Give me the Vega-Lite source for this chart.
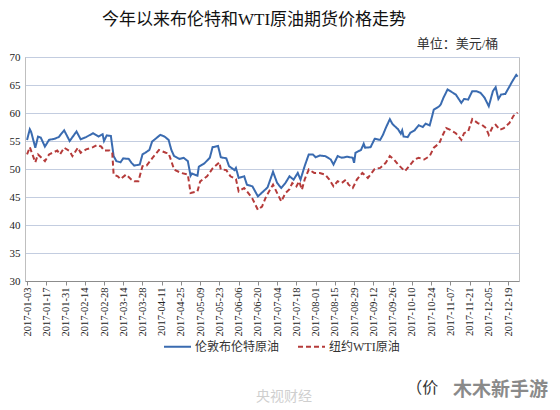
{
"$schema": "https://vega.github.io/schema/vega-lite/v6.json",
"width": 494,
"height": 224,
"autosize": {"type": "none"},
"padding": {"left": 25, "top": 57, "right": 41, "bottom": 129},
"background": "white",
"config": {"view": {"stroke": "#bfbfbf"}, "font": "Liberation Serif"},
"title": {"text": "今年以来布伦特和WTI原油期货价格走势", "anchor": "start", "frame": "group", "dx": 77, "offset": 9, "fontSize": 17, "fontWeight": "normal", "font": "Liberation Serif, Noto Sans CJK SC", "color": "#111111"},
"layer": [
{
"data": {"values": [
{"date":"2017-01-03","series":"伦敦布伦特原油","price":55.2},
{"date":"2017-01-05","series":"伦敦布伦特原油","price":57.1},
{"date":"2017-01-06","series":"伦敦布伦特原油","price":56.6},
{"date":"2017-01-09","series":"伦敦布伦特原油","price":53.8},
{"date":"2017-01-11","series":"伦敦布伦特原油","price":55.8},
{"date":"2017-01-13","series":"伦敦布伦特原油","price":55.6},
{"date":"2017-01-16","series":"伦敦布伦特原油","price":54.0},
{"date":"2017-01-19","series":"伦敦布伦特原油","price":55.2},
{"date":"2017-01-23","series":"伦敦布伦特原油","price":55.4},
{"date":"2017-01-26","series":"伦敦布伦特原油","price":55.7},
{"date":"2017-01-30","series":"伦敦布伦特原油","price":56.9},
{"date":"2017-02-03","series":"伦敦布伦特原油","price":55.0},
{"date":"2017-02-08","series":"伦敦布伦特原油","price":56.7},
{"date":"2017-02-11","series":"伦敦布伦特原油","price":55.3},
{"date":"2017-02-15","series":"伦敦布伦特原油","price":55.7},
{"date":"2017-02-20","series":"伦敦布伦特原油","price":56.4},
{"date":"2017-02-24","series":"伦敦布伦特原油","price":55.8},
{"date":"2017-02-27","series":"伦敦布伦特原油","price":56.2},
{"date":"2017-02-28","series":"伦敦布伦特原油","price":55.0},
{"date":"2017-03-02","series":"伦敦布伦特原油","price":56.0},
{"date":"2017-03-05","series":"伦敦布伦特原油","price":55.9},
{"date":"2017-03-07","series":"伦敦布伦特原油","price":52.3},
{"date":"2017-03-09","series":"伦敦布伦特原油","price":51.4},
{"date":"2017-03-12","series":"伦敦布伦特原油","price":51.2},
{"date":"2017-03-14","series":"伦敦布伦特原油","price":51.9},
{"date":"2017-03-18","series":"伦敦布伦特原油","price":51.8},
{"date":"2017-03-20","series":"伦敦布伦特原油","price":51.1},
{"date":"2017-03-22","series":"伦敦布伦特原油","price":50.6},
{"date":"2017-03-26","series":"伦敦布伦特原油","price":50.8},
{"date":"2017-03-28","series":"伦敦布伦特原油","price":52.6},
{"date":"2017-03-30","series":"伦敦布伦特原油","price":52.9},
{"date":"2017-04-02","series":"伦敦布伦特原油","price":53.4},
{"date":"2017-04-04","series":"伦敦布伦特原油","price":54.9},
{"date":"2017-04-07","series":"伦敦布伦特原油","price":55.5},
{"date":"2017-04-10","series":"伦敦布伦特原油","price":56.1},
{"date":"2017-04-13","series":"伦敦布伦特原油","price":55.8},
{"date":"2017-04-16","series":"伦敦布伦特原油","price":55.2},
{"date":"2017-04-18","series":"伦敦布伦特原油","price":53.4},
{"date":"2017-04-20","series":"伦敦布伦特原油","price":52.3},
{"date":"2017-04-24","series":"伦敦布伦特原油","price":51.8},
{"date":"2017-04-27","series":"伦敦布伦特原油","price":52.0},
{"date":"2017-04-30","series":"伦敦布伦特原油","price":51.4},
{"date":"2017-05-02","series":"伦敦布伦特原油","price":48.8},
{"date":"2017-05-03","series":"伦敦布伦特原油","price":49.2},
{"date":"2017-05-07","series":"伦敦布伦特原油","price":48.8},
{"date":"2017-05-08","series":"伦敦布伦特原油","price":50.4},
{"date":"2017-05-12","series":"伦敦布伦特原油","price":51.0},
{"date":"2017-05-16","series":"伦敦布伦特原油","price":52.0},
{"date":"2017-05-18","series":"伦敦布伦特原油","price":53.9},
{"date":"2017-05-22","series":"伦敦布伦特原油","price":54.1},
{"date":"2017-05-24","series":"伦敦布伦特原油","price":52.1},
{"date":"2017-05-28","series":"伦敦布伦特原油","price":51.9},
{"date":"2017-05-30","series":"伦敦布伦特原油","price":50.5},
{"date":"2017-06-03","series":"伦敦布伦特原油","price":49.8},
{"date":"2017-06-04","series":"伦敦布伦特原油","price":50.2},
{"date":"2017-06-06","series":"伦敦布伦特原油","price":48.4},
{"date":"2017-06-10","series":"伦敦布伦特原油","price":48.7},
{"date":"2017-06-12","series":"伦敦布伦特原油","price":47.2},
{"date":"2017-06-16","series":"伦敦布伦特原油","price":46.9},
{"date":"2017-06-20","series":"伦敦布伦特原油","price":45.1},
{"date":"2017-06-23","series":"伦敦布伦特原油","price":45.8},
{"date":"2017-06-27","series":"伦敦布伦特原油","price":46.7},
{"date":"2017-07-01","series":"伦敦布伦特原油","price":49.5},
{"date":"2017-07-04","series":"伦敦布伦特原油","price":47.5},
{"date":"2017-07-07","series":"伦敦布伦特原油","price":46.6},
{"date":"2017-07-10","series":"伦敦布伦特原油","price":47.5},
{"date":"2017-07-13","series":"伦敦布伦特原油","price":48.7},
{"date":"2017-07-16","series":"伦敦布伦特原油","price":48.1},
{"date":"2017-07-19","series":"伦敦布伦特原油","price":49.3},
{"date":"2017-07-21","series":"伦敦布伦特原油","price":48.1},
{"date":"2017-07-24","series":"伦敦布伦特原油","price":50.5},
{"date":"2017-07-27","series":"伦敦布伦特原油","price":52.6},
{"date":"2017-07-30","series":"伦敦布伦特原油","price":52.6},
{"date":"2017-08-01","series":"伦敦布伦特原油","price":52.1},
{"date":"2017-08-04","series":"伦敦布伦特原油","price":52.4},
{"date":"2017-08-08","series":"伦敦布伦特原油","price":52.3},
{"date":"2017-08-12","series":"伦敦布伦特原油","price":51.7},
{"date":"2017-08-14","series":"伦敦布伦特原油","price":50.8},
{"date":"2017-08-17","series":"伦敦布伦特原油","price":52.3},
{"date":"2017-08-20","series":"伦敦布伦特原油","price":52.0},
{"date":"2017-08-24","series":"伦敦布伦特原油","price":52.2},
{"date":"2017-08-28","series":"伦敦布伦特原油","price":52.0},
{"date":"2017-08-29","series":"伦敦布伦特原油","price":51.1},
{"date":"2017-08-30","series":"伦敦布伦特原油","price":52.9},
{"date":"2017-09-03","series":"伦敦布伦特原油","price":53.4},
{"date":"2017-09-05","series":"伦敦布伦特原油","price":54.5},
{"date":"2017-09-06","series":"伦敦布伦特原油","price":53.8},
{"date":"2017-09-10","series":"伦敦布伦特原油","price":53.9},
{"date":"2017-09-13","series":"伦敦布伦特原油","price":55.4},
{"date":"2017-09-17","series":"伦敦布伦特原油","price":55.2},
{"date":"2017-09-19","series":"伦敦布伦特原油","price":56.1},
{"date":"2017-09-21","series":"伦敦布伦特原油","price":57.3},
{"date":"2017-09-24","series":"伦敦布伦特原油","price":58.9},
{"date":"2017-09-26","series":"伦敦布伦特原油","price":58.0},
{"date":"2017-09-30","series":"伦敦布伦特原油","price":57.1},
{"date":"2017-10-02","series":"伦敦布伦特原油","price":56.3},
{"date":"2017-10-03","series":"伦敦布伦特原油","price":56.9},
{"date":"2017-10-04","series":"伦敦布伦特原油","price":55.8},
{"date":"2017-10-07","series":"伦敦布伦特原油","price":55.7},
{"date":"2017-10-09","series":"伦敦布伦特原油","price":56.5},
{"date":"2017-10-12","series":"伦敦布伦特原油","price":56.9},
{"date":"2017-10-15","series":"伦敦布伦特原油","price":57.8},
{"date":"2017-10-18","series":"伦敦布伦特原油","price":57.5},
{"date":"2017-10-20","series":"伦敦布伦特原油","price":58.1},
{"date":"2017-10-23","series":"伦敦布伦特原油","price":57.8},
{"date":"2017-10-24","series":"伦敦布伦特原油","price":58.7},
{"date":"2017-10-26","series":"伦敦布伦特原油","price":60.6},
{"date":"2017-10-30","series":"伦敦布伦特原油","price":61.2},
{"date":"2017-10-31","series":"伦敦布伦特原油","price":61.5},
{"date":"2017-11-02","series":"伦敦布伦特原油","price":62.7},
{"date":"2017-11-05","series":"伦敦布伦特原油","price":64.2},
{"date":"2017-11-07","series":"伦敦布伦特原油","price":63.9},
{"date":"2017-11-11","series":"伦敦布伦特原油","price":63.3},
{"date":"2017-11-15","series":"伦敦布伦特原油","price":61.8},
{"date":"2017-11-17","series":"伦敦布伦特原油","price":62.5},
{"date":"2017-11-20","series":"伦敦布伦特原油","price":62.4},
{"date":"2017-11-23","series":"伦敦布伦特原油","price":63.9},
{"date":"2017-11-26","series":"伦敦布伦特原油","price":63.9},
{"date":"2017-11-29","series":"伦敦布伦特原油","price":63.6},
{"date":"2017-12-02","series":"伦敦布伦特原油","price":62.7},
{"date":"2017-12-05","series":"伦敦布伦特原油","price":61.2},
{"date":"2017-12-08","series":"伦敦布伦特原油","price":63.9},
{"date":"2017-12-10","series":"伦敦布伦特原油","price":64.6},
{"date":"2017-12-12","series":"伦敦布伦特原油","price":62.5},
{"date":"2017-12-14","series":"伦敦布伦特原油","price":63.3},
{"date":"2017-12-17","series":"伦敦布伦特原油","price":63.4},
{"date":"2017-12-20","series":"伦敦布伦特原油","price":64.7},
{"date":"2017-12-22","series":"伦敦布伦特原油","price":65.6},
{"date":"2017-12-25","series":"伦敦布伦特原油","price":66.8},
{"date":"2017-12-26","series":"伦敦布伦特原油","price":66.5},
{"date":"2017-01-03","series":"纽约WTI原油","price":52.6},
{"date":"2017-01-05","series":"纽约WTI原油","price":53.9},
{"date":"2017-01-09","series":"纽约WTI原油","price":51.2},
{"date":"2017-01-11","series":"纽约WTI原油","price":52.6},
{"date":"2017-01-16","series":"纽约WTI原油","price":51.4},
{"date":"2017-01-19","series":"纽约WTI原油","price":52.6},
{"date":"2017-01-25","series":"纽约WTI原油","price":53.3},
{"date":"2017-01-27","series":"纽约WTI原油","price":52.6},
{"date":"2017-01-30","series":"纽约WTI原油","price":53.8},
{"date":"2017-02-03","series":"纽约WTI原油","price":53.2},
{"date":"2017-02-05","series":"纽约WTI原油","price":52.3},
{"date":"2017-02-09","series":"纽约WTI原油","price":53.8},
{"date":"2017-02-11","series":"纽约WTI原油","price":52.9},
{"date":"2017-02-15","series":"纽约WTI原油","price":53.5},
{"date":"2017-02-20","series":"纽约WTI原油","price":53.9},
{"date":"2017-02-23","series":"纽约WTI原油","price":54.3},
{"date":"2017-02-26","series":"纽约WTI原油","price":54.0},
{"date":"2017-02-28","series":"纽约WTI原油","price":53.3},
{"date":"2017-03-04","series":"纽约WTI原油","price":53.3},
{"date":"2017-03-06","series":"纽约WTI原油","price":52.9},
{"date":"2017-03-07","series":"纽约WTI原油","price":49.0},
{"date":"2017-03-10","series":"纽约WTI原油","price":48.7},
{"date":"2017-03-12","series":"纽约WTI原油","price":48.2},
{"date":"2017-03-16","series":"纽约WTI原油","price":49.0},
{"date":"2017-03-20","series":"纽约WTI原油","price":48.1},
{"date":"2017-03-22","series":"纽约WTI原油","price":47.8},
{"date":"2017-03-25","series":"纽约WTI原油","price":47.8},
{"date":"2017-03-28","series":"纽约WTI原油","price":50.5},
{"date":"2017-03-31","series":"纽约WTI原油","price":50.6},
{"date":"2017-04-04","series":"纽约WTI原油","price":51.9},
{"date":"2017-04-09","series":"纽约WTI原油","price":53.4},
{"date":"2017-04-14","series":"纽约WTI原油","price":52.9},
{"date":"2017-04-16","series":"纽约WTI原油","price":52.8},
{"date":"2017-04-18","series":"纽约WTI原油","price":51.4},
{"date":"2017-04-20","series":"纽约WTI原油","price":49.9},
{"date":"2017-04-25","series":"纽约WTI原油","price":49.3},
{"date":"2017-04-30","series":"纽约WTI原油","price":49.0},
{"date":"2017-05-02","series":"纽约WTI原油","price":45.7},
{"date":"2017-05-07","series":"纽约WTI原油","price":46.0},
{"date":"2017-05-09","series":"纽约WTI原油","price":47.8},
{"date":"2017-05-14","series":"纽约WTI原油","price":48.7},
{"date":"2017-05-18","series":"纽约WTI原油","price":50.1},
{"date":"2017-05-23","series":"纽约WTI原油","price":51.2},
{"date":"2017-05-24","series":"纽约WTI原油","price":49.9},
{"date":"2017-05-28","series":"纽约WTI原油","price":49.8},
{"date":"2017-05-31","series":"纽约WTI原油","price":48.7},
{"date":"2017-06-04","series":"纽约WTI原油","price":48.2},
{"date":"2017-06-06","series":"纽约WTI原油","price":46.0},
{"date":"2017-06-10","series":"纽约WTI原油","price":46.6},
{"date":"2017-06-14","series":"纽约WTI原油","price":45.4},
{"date":"2017-06-16","series":"纽约WTI原油","price":44.7},
{"date":"2017-06-20","series":"纽约WTI原油","price":42.7},
{"date":"2017-06-23","series":"纽约WTI原油","price":43.3},
{"date":"2017-06-26","series":"纽约WTI原油","price":45.1},
{"date":"2017-07-01","series":"纽约WTI原油","price":47.2},
{"date":"2017-07-04","series":"纽约WTI原油","price":45.7},
{"date":"2017-07-07","series":"纽约WTI原油","price":44.2},
{"date":"2017-07-10","series":"纽约WTI原油","price":45.7},
{"date":"2017-07-13","series":"纽约WTI原油","price":46.4},
{"date":"2017-07-15","series":"纽约WTI原油","price":47.5},
{"date":"2017-07-18","series":"纽约WTI原油","price":46.9},
{"date":"2017-07-20","series":"纽约WTI原油","price":47.8},
{"date":"2017-07-22","series":"纽约WTI原油","price":46.3},
{"date":"2017-07-24","series":"纽约WTI原油","price":48.1},
{"date":"2017-07-27","series":"纽约WTI原油","price":49.9},
{"date":"2017-07-31","series":"纽约WTI原油","price":49.3},
{"date":"2017-08-04","series":"纽约WTI原油","price":49.3},
{"date":"2017-08-08","series":"纽约WTI原油","price":49.0},
{"date":"2017-08-11","series":"纽约WTI原油","price":48.1},
{"date":"2017-08-14","series":"纽约WTI原油","price":46.9},
{"date":"2017-08-17","series":"纽约WTI原油","price":47.8},
{"date":"2017-08-20","series":"纽约WTI原油","price":47.5},
{"date":"2017-08-23","series":"纽约WTI原油","price":48.1},
{"date":"2017-08-25","series":"纽约WTI原油","price":47.2},
{"date":"2017-08-28","series":"纽约WTI原油","price":46.6},
{"date":"2017-08-31","series":"纽约WTI原油","price":48.1},
{"date":"2017-09-04","series":"纽约WTI原油","price":49.3},
{"date":"2017-09-08","series":"纽约WTI原油","price":48.4},
{"date":"2017-09-13","series":"纽约WTI原油","price":50.0},
{"date":"2017-09-17","series":"纽约WTI原油","price":50.2},
{"date":"2017-09-21","series":"纽约WTI原油","price":51.1},
{"date":"2017-09-24","series":"纽约WTI原油","price":52.3},
{"date":"2017-09-27","series":"纽约WTI原油","price":51.7},
{"date":"2017-09-30","series":"纽约WTI原油","price":50.8},
{"date":"2017-10-05","series":"纽约WTI原油","price":49.6},
{"date":"2017-10-08","series":"纽约WTI原油","price":50.5},
{"date":"2017-10-12","series":"纽约WTI原油","price":51.7},
{"date":"2017-10-15","series":"纽约WTI原油","price":52.0},
{"date":"2017-10-19","series":"纽约WTI原油","price":51.7},
{"date":"2017-10-23","series":"纽约WTI原油","price":52.3},
{"date":"2017-10-26","series":"纽约WTI原油","price":53.8},
{"date":"2017-10-30","series":"纽约WTI原油","price":54.6},
{"date":"2017-11-01","series":"纽约WTI原油","price":55.8},
{"date":"2017-11-04","series":"纽约WTI原油","price":57.3},
{"date":"2017-11-07","series":"纽约WTI原油","price":57.0},
{"date":"2017-11-11","series":"纽约WTI原油","price":56.4},
{"date":"2017-11-15","series":"纽约WTI原油","price":55.2},
{"date":"2017-11-17","series":"纽约WTI原油","price":56.4},
{"date":"2017-11-20","series":"纽约WTI原油","price":56.7},
{"date":"2017-11-23","series":"纽约WTI原油","price":58.9},
{"date":"2017-11-27","series":"纽约WTI原油","price":58.2},
{"date":"2017-11-30","series":"纽约WTI原油","price":57.9},
{"date":"2017-12-03","series":"纽约WTI原油","price":57.3},
{"date":"2017-12-05","series":"纽约WTI原油","price":56.1},
{"date":"2017-12-08","series":"纽约WTI原油","price":57.6},
{"date":"2017-12-10","series":"纽约WTI原油","price":57.9},
{"date":"2017-12-13","series":"纽约WTI原油","price":57.0},
{"date":"2017-12-16","series":"纽约WTI原油","price":57.3},
{"date":"2017-12-20","series":"纽约WTI原油","price":58.2},
{"date":"2017-12-23","series":"纽约WTI原油","price":59.5},
{"date":"2017-12-26","series":"纽约WTI原油","price":60.1}
]},
"mark": {"type": "line", "strokeWidth": 2},
"encoding": {
"x": {"field": "date", "type": "temporal",
 "scale": {"type": "utc", "domain": [{"year":2017,"month":1,"date":1,"hours":12,"utc":true},{"year":2017,"month":12,"date":27,"utc":true}]},
 "axis": {"title": null, "format": "%Y-%m-%d", "labelAngle": -90, "labelFont": "Liberation Serif", "labelFontSize": 10.5, "labelColor": "#222222", "grid": false, "domainColor": "#8c8c8c", "tickColor": "#8c8c8c", "tickSize": 4, "labelPadding": 2, "labelOverlap": false, "labelFlush": false, "tickCount": 40,
  "values": [
   {"year":2017,"month":1,"date":3,"utc":true},{"year":2017,"month":1,"date":17,"utc":true},{"year":2017,"month":1,"date":31,"utc":true},
   {"year":2017,"month":2,"date":14,"utc":true},{"year":2017,"month":2,"date":28,"utc":true},{"year":2017,"month":3,"date":14,"utc":true},
   {"year":2017,"month":3,"date":28,"utc":true},{"year":2017,"month":4,"date":11,"utc":true},{"year":2017,"month":4,"date":25,"utc":true},
   {"year":2017,"month":5,"date":9,"utc":true},{"year":2017,"month":5,"date":23,"utc":true},{"year":2017,"month":6,"date":6,"utc":true},
   {"year":2017,"month":6,"date":20,"utc":true},{"year":2017,"month":7,"date":4,"utc":true},{"year":2017,"month":7,"date":18,"utc":true},
   {"year":2017,"month":8,"date":1,"utc":true},{"year":2017,"month":8,"date":15,"utc":true},{"year":2017,"month":8,"date":29,"utc":true},
   {"year":2017,"month":9,"date":12,"utc":true},{"year":2017,"month":9,"date":26,"utc":true},{"year":2017,"month":10,"date":10,"utc":true},
   {"year":2017,"month":10,"date":24,"utc":true},{"year":2017,"month":11,"date":7,"utc":true},{"year":2017,"month":11,"date":21,"utc":true},
   {"year":2017,"month":12,"date":5,"utc":true},{"year":2017,"month":12,"date":19,"utc":true}
  ]}},
"y": {"field": "price", "type": "quantitative",
 "scale": {"domain": [30, 70], "nice": false, "zero": false},
 "axis": {"title": null, "values": [30,35,40,45,50,55,60,65,70], "tickCount": 20, "labelFont": "Liberation Serif", "labelFontSize": 11, "labelColor": "#222222", "ticks": false, "domainColor": "#bfbfbf", "gridColor": "#c3cde0", "labelPadding": 5}},
"color": {"field": "series", "type": "nominal",
 "scale": {"domain": ["伦敦布伦特原油", "纽约WTI原油"], "range": ["#3a6bb0", "#b53b3a"]},
 "legend": {"title": null, "orient": "none", "legendX": 138, "legendY": 275, "direction": "horizontal", "symbolType": "stroke", "symbolSize": 729, "symbolStrokeWidth": 2, "labelFont": "Liberation Serif, Noto Sans CJK SC", "labelFontSize": 12, "labelColor": "#333333", "columnPadding": 14, "labelOffset": 3}},
"strokeDash": {"field": "series", "type": "nominal",
 "scale": {"domain": ["伦敦布伦特原油", "纽约WTI原油"], "range": [[1, 0], [5, 3]]}}
}
},
{
"data": {"values": [{"label": "单位：美元/桶"}]},
"mark": {"type": "text", "align": "right", "baseline": "middle", "fontSize": 13, "font": "Liberation Serif, Noto Sans CJK SC", "color": "#333333"},
"encoding": {
"x": {"datum": {"year":2017,"month":12,"date":12,"utc":true}, "type": "temporal"},
"y": {"datum": 72.4, "type": "quantitative"},
"text": {"field": "label"}
}
},
{
"data": {"values": [{"label": "央视财经"}]},
"mark": {"type": "text", "align": "center", "baseline": "middle", "fontSize": 14, "font": "Noto Sans CJK SC", "color": "#cfcfcf"},
"encoding": {
"x": {"datum": {"year":2017,"month":7,"date":9,"utc":true}, "type": "temporal"},
"y": {"datum": 9.3, "type": "quantitative"},
"text": {"field": "label"}
}
},
{
"data": {"values": [{"label": "（价"}]},
"mark": {"type": "text", "align": "left", "baseline": "middle", "fontSize": 16, "font": "Noto Sans CJK SC", "color": "#333333"},
"encoding": {
"x": {"datum": {"year":2017,"month":10,"date":6,"utc":true}, "type": "temporal"},
"y": {"datum": 10.9, "type": "quantitative"},
"text": {"field": "label"}
}
},
{
"data": {"values": [{"label": "木木新手游"}]},
"mark": {"type": "text", "align": "left", "baseline": "middle", "fontSize": 19, "fontWeight": "bold", "font": "Noto Sans CJK SC", "color": "#8a8a8a"},
"encoding": {
"x": {"datum": {"year":2017,"month":11,"date":9,"utc":true}, "type": "temporal"},
"y": {"datum": 10.5, "type": "quantitative"},
"text": {"field": "label"}
}
}
]
}
